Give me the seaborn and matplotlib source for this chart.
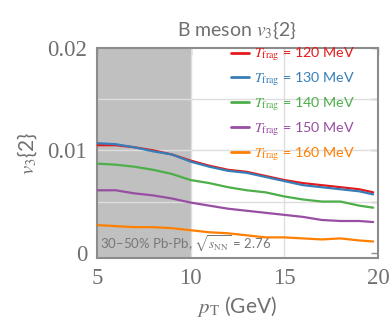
import numpy as np
import pandas as pd
import matplotlib
matplotlib.use("Agg")
import matplotlib.pyplot as plt
import seaborn as sns

# transverse momentum grid (GeV)
pt = [5, 6, 7, 8, 9, 10, 11, 12, 13, 14, 15, 16, 17, 18, 19, 19.75]

# B meson v3{2} for each fragmentation temperature
v3_t120 = [0.0105, 0.0105, 0.0103, 0.0100, 0.0096, 0.0090, 0.0085, 0.0081,
           0.0079, 0.0075, 0.0071, 0.0068, 0.0066, 0.0064, 0.0062, 0.0059]
v3_t130 = [0.0107, 0.0106, 0.0103, 0.0099, 0.0096, 0.0089, 0.0084, 0.0080,
           0.0078, 0.0074, 0.0070, 0.0066, 0.0064, 0.0062, 0.0060, 0.0057]
v3_t140 = [0.0087, 0.0086, 0.0084, 0.0081, 0.0077, 0.0071, 0.0068, 0.0064,
           0.0061, 0.0059, 0.0055, 0.0052, 0.0050, 0.0050, 0.0046, 0.0044]
v3_t150 = [0.0061, 0.0061, 0.0058, 0.0056, 0.0053, 0.0049, 0.0046, 0.0043,
           0.0041, 0.0039, 0.0037, 0.0035, 0.0032, 0.0031, 0.0031, 0.0030]
v3_t160 = [0.0027, 0.0026, 0.0025, 0.0025, 0.0024, 0.0022, 0.0020, 0.0019,
           0.0017, 0.0015, 0.0015, 0.0014, 0.0013, 0.0014, 0.0012, 0.0011]

temps = [120, 130, 140, 150, 160]
series = [v3_t120, v3_t130, v3_t140, v3_t150, v3_t160]
colors = ["#e41a1c", "#377eb8", "#4daf4a", "#984ea3", "#ff7f00"]
x_ticks = [5, 10, 15, 20]
y_ticks = [0, 0.005, 0.01, 0.015, 0.02]
y_ticklabels = ["0", "", "0.01", "", "0.02"]

frames = []
for t, vals in zip(temps, series):
    frames.append(pd.DataFrame({"pt": pt, "v3": vals,
                                "T": rf"$T_{{\rm frag}}$ = {t} MeV"}))
df = pd.concat(frames, ignore_index=True)

sns.set_theme(style="white")
plt.rcParams["font.family"] = ["Lato", "DejaVu Sans"]
plt.rcParams["mathtext.fontset"] = "stix"
plt.rcParams["mathtext.rm"] = "Lato"

grey = "#707070"
frame_grey = "#8c8c8c"

fig = plt.figure(figsize=(3.92, 3.26), dpi=100)
ax = fig.add_axes([0.247, 0.209, 0.717, 0.644])

# low-pT band
ax.axvspan(5, 10, color="#c0c0c0", zorder=0, lw=0)

# light grid
for xv in [10, 15]:
    ax.axvline(xv, color="#dedede", lw=1.0, zorder=1)
for yv in [0.005, 0.01, 0.015]:
    ax.axhline(yv, color="#dedede", lw=1.0, zorder=1)

sns.lineplot(data=df, x="pt", y="v3", hue="T", palette=colors, lw=1.6,
             ax=ax, zorder=3, legend=True)

ax.set_xlim(5, 20)
ax.set_ylim(-0.0005, 0.02)
ax.set_xticks(x_ticks)
ax.set_yticks(y_ticks)
ax.set_yticklabels(y_ticklabels)
ax.tick_params(axis="both", direction="in", length=5, width=1.0,
               colors=frame_grey, labelcolor=grey, labelsize=16.5,
               top=True, right=True, pad=7)
for lab in ax.get_xticklabels() + ax.get_yticklabels():
    lab.set_fontfamily("Liberation Serif")
for s in ax.spines.values():
    s.set_color(frame_grey)
    s.set_linewidth(1.5)

ax.set_xlabel(r"$p_{\rm T}$ (GeV)", color=grey, fontsize=15, labelpad=4)
ax.set_ylabel(r"$v_3${2}", color=grey, fontsize=15, labelpad=6)
ax.set_title(r"B meson $v_3${2}", color=grey, fontsize=14, pad=9)

leg = ax.legend(loc="upper right", bbox_to_anchor=(0.945, 1.045), frameon=False,
                fontsize=10.3, handlelength=1.2, handletextpad=0.4,
                labelspacing=0.5, borderaxespad=0.1, labelcolor="linecolor")
for line in leg.get_lines():
    line.set_linewidth(2.0)

ax.text(5.15, -0.0001, r"30–50% Pb-Pb, $\sqrt{s_{\rm NN}}$ = 2.76",
        color="#777777", fontsize=9.5, ha="left", va="bottom", zorder=4)

fig.savefig("out.png", dpi=100)
